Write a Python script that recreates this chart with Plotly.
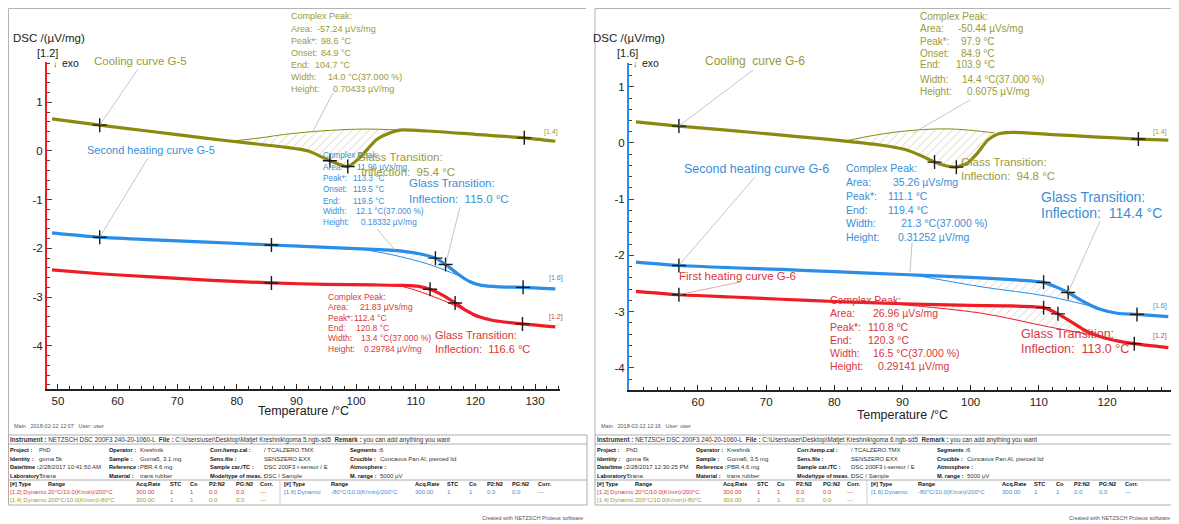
import plotly.graph_objects as go

# page is shown with the browser's 8px body margin, so the figure is drawn 8px smaller
# and every reference pixel position is shifted by that margin
PAGE_OFF = 8
W, H = 1179 - PAGE_OFF, 524 - PAGE_OFF
FONT = "Liberation Sans, Arial, sans-serif"

OLIVE, OLIVE_TXT = "#8a8a10", "#9b9b38"
BLUE, BLUE_TXT = "#2a8ee8", "#3a8ed8"
RED, RED_TXT = "#ee1c24", "#d8383c"
LEADER = "#b8b8b8"

# ---------------- G-5 (left panel) ----------------
g5_cool_t = [49, 57, 65, 75, 82, 88, 92, 95.6, 98.6, 100.6, 102, 103.4, 105.6, 107.3, 112, 120, 128.2, 133.4]
g5_cool_v = [0.66, 0.53, 0.41, 0.26, 0.16, 0.08, 0.0, -0.2, -0.32, -0.14, 0.05, 0.23, 0.37, 0.43, 0.41, 0.34, 0.27, 0.2]
g5_cool_base_t = [79, 84, 88, 94, 101, 107.3]
g5_cool_base_v = [0.2, 0.27, 0.34, 0.41, 0.45, 0.43]
g5_cool_mark_t = [57, 95.6, 98.6, 128.2]
g5_cool_mark_v = [0.53, -0.2, -0.32, 0.27]

g5_heat2_t = [49, 57, 65, 75, 85.8, 95, 103, 108, 111, 113.3, 115, 117, 119, 121, 124, 128, 133.4]
g5_heat2_v = [-1.68, -1.77, -1.82, -1.87, -1.93, -1.98, -2.02, -2.06, -2.12, -2.2, -2.33, -2.52, -2.68, -2.76, -2.79, -2.8, -2.83]
g5_heat2_base_t = [100, 106, 112, 116, 120.5]
g5_heat2_base_v = [-2.0, -2.13, -2.32, -2.5, -2.74]
g5_heat2_mark_t = [57, 85.8, 113.3, 115, 128]
g5_heat2_mark_v = [-1.77, -1.93, -2.2, -2.33, -2.8]

g5_heat1_t = [49, 57, 65, 75, 85.8, 95, 103, 108, 110.5, 112.4, 114.5, 116.6, 118.5, 120.5, 123, 127.9, 133.4]
g5_heat1_v = [-2.44, -2.52, -2.58, -2.65, -2.71, -2.74, -2.75, -2.76, -2.78, -2.84, -2.96, -3.12, -3.28, -3.4, -3.48, -3.55, -3.61]
g5_heat1_base_t = [106.8, 110, 114, 117, 120.2]
g5_heat1_base_v = [-2.75, -2.86, -3.04, -3.2, -3.42]
g5_heat1_mark_t = [85.8, 112.4, 116.6, 127.9]
g5_heat1_mark_v = [-2.71, -2.84, -3.12, -3.55]

# ---------------- G-6 (right panel) ----------------
g6_cool_t = [50.9, 57.2, 65, 75, 82, 87, 90.5, 93, 94.7, 96.5, 97.9, 99.5, 101, 102.5, 104, 106, 112, 118, 124.6, 129]
g6_cool_v = [0.375, 0.3, 0.22, 0.11, 0.03, -0.04, -0.12, -0.24, -0.34, -0.41, -0.43, -0.36, -0.18, 0.05, 0.16, 0.19, 0.15, 0.11, 0.07, 0.05]
g6_cool_base_t = [81, 86, 91, 97, 103.5]
g6_cool_base_v = [0.02, 0.14, 0.22, 0.25, 0.18]
g6_cool_mark_t = [57.2, 94.7, 97.9, 124.6]
g6_cool_mark_v = [0.3, -0.34, -0.43, 0.07]

g6_heat2_t = [50.9, 57.2, 65, 72.2, 80, 90, 100, 106, 110.7, 112.5, 114.3, 116.5, 119, 121.5, 124.4, 129]
g6_heat2_v = [-2.12, -2.18, -2.22, -2.25, -2.29, -2.34, -2.39, -2.43, -2.48, -2.56, -2.66, -2.82, -2.96, -3.03, -3.05, -3.09]
g6_heat2_base_t = [91.3, 101.6, 111.4, 119.2]
g6_heat2_base_v = [-2.34, -2.56, -2.73, -2.95]
g6_heat2_mark_t = [57.2, 110.7, 114.3, 124.4]
g6_heat2_mark_v = [-2.18, -2.48, -2.66, -3.05]

g6_heat1_t = [50.9, 57.2, 65, 72.2, 80, 90, 100, 106, 110.7, 112.8, 115, 117, 119.4, 121.5, 124, 129]
g6_heat1_v = [-2.64, -2.7, -2.74, -2.78, -2.82, -2.86, -2.89, -2.9, -2.93, -3.04, -3.2, -3.35, -3.46, -3.52, -3.57, -3.64]
g6_heat1_base_t = [88.4, 101.6, 111.4, 119.4]
g6_heat1_base_v = [-2.86, -3.03, -3.27, -3.45]
g6_heat1_mark_t = [57.2, 110.7, 112.8, 124]
g6_heat1_mark_v = [-2.7, -2.93, -3.04, -3.57]

# ticks
y_ticks = [-4, -3, -2, -1, 0, 1]
y_tick_text = ["-4", "-3", "-2", "-1", "0", "1"]
x_ticks_g5 = [50, 60, 70, 80, 90, 100, 110, 120, 130]
x_ticks_g6 = [60, 70, 80, 90, 100, 110, 120]

# evaluation texts
peak_cool_labels = ["Complex Peak:", "Area:", "Peak*:", "Onset:", "End:", "Width:", "Height:"]
g5_cool_peak = ["", "-57.24 µVs/mg", "98.6 °C", "84.9 °C", "104.7 °C", "14.0 °C(37.000 %)", "0.70433 µV/mg"]
g6_cool_peak = ["", "-50.44 µVs/mg", "97.9 °C", "84.9 °C", "103.9 °C", "14.4 °C(37.000 %)", "0.6075 µV/mg"]
g5_heat2_peak = ["", "11.96 µVs/mg", "113.3 °C", "119.5 °C", "119.5 °C", "12.1 °C(37.000 %)", "0.18332 µV/mg"]
peak_heat_labels = ["Complex Peak:", "Area:", "Peak*:", "End:", "Width:", "Height:"]
g5_heat1_peak = ["", "21.83 µVs/mg", "112.4 °C", "120.8 °C", "13.4 °C(37.000 %)", "0.29784 µV/mg"]
g6_heat2_peak = ["", "35.26 µVs/mg", "111.1 °C", "119.4 °C", "21.3 °C(37.000 %)", "0.31252 µV/mg"]
g6_heat1_peak = ["", "26.96 µVs/mg", "110.8 °C", "120.3 °C", "16.5 °C(37.000 %)", "0.29141 µV/mg"]

# report table
table_cols = [(9, 38), (108, 139), (209, 263), (349, 379)]
info_g5 = [
    [("Project :", "PhD"), ("Operator :", "Kreshnik"), ("Corr./temp.cal :", "/ TCALZERO.TMX"), ("Segments :", "6")],
    [("Identity :", "goma 5k"), ("Sample :", "Goma5, 3.1 mg"), ("Sens.file :", "SENSZERO.EXX"), ("Crucible :", "Concavus Pan Al, pierced lid")],
    [("Date/time :", "2/28/2017 10:41:50 AM"), ("Reference :", "PBR,4.6 mg"), ("Sample car./TC :", "DSC 200F3 t-sensor / E"), ("Atmosphere :", "")],
    [("Laboratory :", "Tirana"), ("Material :", "trans rubber"), ("Mode/type of meas. :", "DSC / Sample"), ("M. range :", "5000 µV")],
]
info_g6 = [
    [("Project :", "PhD"), ("Operator :", "Kreshnik"), ("Corr./temp.cal :", "/ TCALZERO.TMX"), ("Segments :", "6")],
    [("Identity :", "goma 6k"), ("Sample :", "Goma6, 3.5 mg"), ("Sens.file :", "SENSZERO.EXX"), ("Crucible :", "Concavus Pan Al, pierced lid")],
    [("Date/time :", "2/28/2017 12:30:25 PM"), ("Reference :", "PBR,4.6 mg"), ("Sample car./TC :", "DSC 200F3 t-sensor / E"), ("Atmosphere :", "")],
    [("Laboratory :", "Tirana"), ("Material :", "trans rubber"), ("Mode/type of meas. :", "DSC / Sample"), ("M. range :", "5000 µV")],
]
instrument = "NETZSCH DSC 200F3 240-20-1060-L"
file_g5 = r"C:\Users\user\Desktop\Matjet Kreshnik\goma 5.ngb-sd5"
file_g6 = r"C:\Users\user\Desktop\Matjet Kreshnik\goma 6.ngb-sd5"
remark = "you can add anything you want"
main_g5 = "Main   2018-02-12 12:07   User: user"
main_g6 = "Main   2018-02-12 12:16   User: user"
seg_head = ["[#] Type", "Range", "Acq.Rate", "STC", "Co", "P2:N2", "PG:N2", "Corr."]
seg_x_left = [9, 47, 135, 169, 189, 208, 235, 259]
seg_x_right = [283, 330, 414, 446, 468, 486, 511, 537]
seg_12 = ["[1.2] Dynamic", "20°C/10.0(K/min)/200°C", "300.00", "1", "1", "0.0", "0.0", "---"]
seg_14 = ["[1.4] Dynamic", "200°C/10.0(K/min)/-80°C", "300.00", "1", "1", "0.0", "0.0", "---"]
seg_16 = ["[1.6] Dynamic", "-80°C/10.0(K/min)/200°C", "300.00", "1", "1", "0.0", "0.0", "---"]

panels = {
    "g5": dict(xa="x", ya="y", px=(47, 560), py=(62, 389), tr=(48.16, 134.19), vr=(-4.887, 1.827), off=0, axis=RED),
    "g6": dict(xa="x2", ya="y2", px=(629, 1173), py=(63, 390), tr=(49.88, 129.68), vr=(-4.395, 1.423), off=587, axis=BLUE),
}

fig = go.Figure()


def X(x):
    return max(x - PAGE_OFF, 0.5) / W


def Y(y):
    return 1 - max(y - PAGE_OFF, 0.5) / H


def p2d(p, x, y):
    t = p["tr"][0] + (x - p["px"][0]) / (p["px"][1] - p["px"][0]) * (p["tr"][1] - p["tr"][0])
    v = p["vr"][1] - (y - p["py"][0]) / (p["py"][1] - p["py"][0]) * (p["vr"][1] - p["vr"][0])
    return t, v


def curve(p, ct, cv, bt, bv, mt, mv, color, hatch):
    inner = [(t, v) for t, v in zip(ct, cv) if bt[0] < t < bt[-1]]
    poly_t = list(bt) + [t for t, _ in reversed(inner)]
    poly_v = list(bv) + [v for _, v in reversed(inner)]
    common = dict(xaxis=p["xa"], yaxis=p["ya"], hoverinfo="skip", showlegend=False)
    fig.add_trace(go.Scatter(x=poly_t, y=poly_v, mode="lines", fill="toself", line=dict(width=0),
                             fillcolor="rgba(255,255,255,0)",
                             fillpattern=dict(shape="/", fgcolor=hatch, bgcolor="rgba(255,255,255,0)", size=6, solidity=0.15),
                             **common))
    fig.add_trace(go.Scatter(x=bt, y=bv, mode="lines", line=dict(color=color, width=1, shape="spline"), **common))
    fig.add_trace(go.Scatter(x=ct, y=cv, mode="lines", line=dict(color=color, width=3.2, shape="spline", smoothing=0.6), **common))
    fig.add_trace(go.Scatter(x=mt, y=mv, mode="markers",
                             marker=dict(symbol="cross-thin", size=10, line=dict(color="#1a1a1a", width=1.4)), **common))


def txt(s, x, y, size, color, anchor="left", bold=False):
    fig.add_annotation(text=f"<b>{s}</b>" if bold else s, x=X(x), y=Y(y), xref="paper", yref="paper",
                       xanchor=anchor, yanchor="middle", showarrow=False, borderpad=0,
                       font=dict(family=FONT, size=size, color=color))


def block(labels, values, x_lab, x_vals, ys, size, color):
    for lab, val, xv, y in zip(labels, values, x_vals, ys):
        txt(lab, x_lab, y, size, color)
        if val:
            txt(val, xv, y, size, color)


def leader(p, x0, y0, t1, v1, color=LEADER):
    t0, v0 = p2d(p, x0, y0)
    fig.add_shape(type="line", xref=p["xa"], yref=p["ya"], x0=t0, y0=v0, x1=t1, y1=v1,
                  line=dict(color=color, width=0.8))


def line_px(x0, y0, x1, y1, color=LEADER):
    fig.add_shape(type="line", xref="paper", yref="paper", x0=X(x0), y0=Y(y0), x1=X(x1), y1=Y(y1),
                  line=dict(color=color, width=0.8))


P5, P6 = panels["g5"], panels["g6"]

# curves
curve(P5, g5_cool_t, g5_cool_v, g5_cool_base_t, g5_cool_base_v, g5_cool_mark_t, g5_cool_mark_v, OLIVE, "#a8a878")
curve(P5, g5_heat2_t, g5_heat2_v, g5_heat2_base_t, g5_heat2_base_v, g5_heat2_mark_t, g5_heat2_mark_v, BLUE, "#9aa6b2")
curve(P5, g5_heat1_t, g5_heat1_v, g5_heat1_base_t, g5_heat1_base_v, g5_heat1_mark_t, g5_heat1_mark_v, RED, "#b89a9a")
curve(P6, g6_cool_t, g6_cool_v, g6_cool_base_t, g6_cool_base_v, g6_cool_mark_t, g6_cool_mark_v, OLIVE, "#a8a878")
curve(P6, g6_heat2_t, g6_heat2_v, g6_heat2_base_t, g6_heat2_base_v, g6_heat2_mark_t, g6_heat2_mark_v, BLUE, "#9aa6b2")
curve(P6, g6_heat1_t, g6_heat1_v, g6_heat1_base_t, g6_heat1_base_v, g6_heat1_mark_t, g6_heat1_mark_v, RED, "#b89a9a")

# leader lines
leader(P5, 138, 69, g5_cool_mark_t[0], g5_cool_mark_v[0])
leader(P5, 148, 158, g5_heat2_mark_t[0], g5_heat2_mark_v[0])
line_px(333, 93, 312, 133)
line_px(377, 229, 395, 250)
leader(P5, 460, 207, g5_heat2_mark_t[3], g5_heat2_mark_v[3])
leader(P6, 753, 70, g6_cool_mark_t[0], g6_cool_mark_v[0])
leader(P6, 755, 177, g6_heat2_mark_t[0], g6_heat2_mark_v[0])
leader(P6, 740, 282, g6_heat1_mark_t[0], g6_heat1_mark_v[0], "#d89090")
line_px(970, 100, 913, 133)
line_px(912, 243, 910, 272)
leader(P6, 1100, 221, g6_heat2_mark_t[2], g6_heat2_mark_v[2])

# axis headers
for p, tag in ((P5, "[1.2]"), (P6, "[1.6]")):
    b = 0 if p is P5 else 580
    txt("DSC /(µV/mg)", 12 + b, 38, 11.5, "#222")
    txt(tag, 47 + b, 53, 11, "#222", anchor="center")
    txt("↓", 55 + b, 65, 8, "#222", anchor="center")
    txt("exo", 61 + b, 63, 10.5, "#222")

txt("Temperature /°C", 303, 411, 12.5, "#222", anchor="center")
txt("Temperature /°C", 902, 415, 12.5, "#222", anchor="center")

# curve labels, left
txt("Cooling curve G-5", 93, 61, 11.5, OLIVE_TXT)
txt("Second heating curve G-5", 86, 150, 11, BLUE_TXT)
block(peak_cool_labels, g5_cool_peak, 290, [0, 316, 320, 320, 314, 327, 332], [16, 29, 41, 53, 65, 77, 89], 9, OLIVE_TXT)
block(peak_cool_labels, g5_heat2_peak, 322, [0, 356, 352, 352, 352, 355, 360], [155, 167, 179, 190, 201, 211, 222], 8.2, BLUE_TXT)
txt("Glass Transition:", 356, 157, 11.5, OLIVE_TXT)
txt("Inflection:  95.4 °C", 360, 172, 11.5, OLIVE_TXT)
txt("Glass Transition:", 408, 183, 11.5, BLUE_TXT)
txt("Inflection:  115.0 °C", 408, 199, 11.5, BLUE_TXT)
block(peak_heat_labels, g5_heat1_peak, 327, [0, 359, 353, 355, 360, 363], [297, 307, 318, 328, 338, 349], 8.5, RED_TXT)
txt("Glass Transition:", 434, 335, 11, RED_TXT)
txt("Inflection:  116.6 °C", 434, 349, 11, RED_TXT)
txt("[1.4]", 543, 132, 7, OLIVE_TXT)
txt("[1.6]", 548, 278, 7, BLUE_TXT)
txt("[1.2]", 548, 317, 7, RED_TXT)

# curve labels, right
txt("Cooling  curve G-6", 704, 61, 12, OLIVE_TXT)
txt("Second heating curve G-6", 683, 169, 12.5, BLUE_TXT)
txt("First heating curve G-6", 678, 276, 11.5, RED_TXT)
block(peak_cool_labels, g6_cool_peak, 919, [0, 957, 960, 960, 955, 961, 966], [16, 29, 41, 53, 65, 79, 91], 10, OLIVE_TXT)
block(peak_heat_labels, g6_heat2_peak, 845, [0, 892, 887, 887, 900, 897], [168, 182, 196, 210, 223, 237], 10.5, BLUE_TXT)
txt("Glass Transition:", 960, 162, 11.5, OLIVE_TXT)
txt("Inflection:  94.8 °C", 960, 176, 11.5, OLIVE_TXT)
txt("Glass Transition:", 1040, 197, 14, BLUE_TXT)
txt("Inflection:  114.4 °C", 1040, 213, 14, BLUE_TXT)
block(peak_heat_labels, g6_heat1_peak, 829, [0, 872, 867, 867, 872, 877], [300, 313, 327, 340, 353, 366], 10.5, RED_TXT)
txt("Glass Transition:", 1020, 334, 12.5, RED_TXT)
txt("Inflection:  113.0 °C", 1020, 349, 12.5, RED_TXT)
txt("[1.4]", 1152, 132, 7, OLIVE_TXT)
txt("[1.6]", 1152, 306, 7, BLUE_TXT)
txt("[1.2]", 1152, 336, 7, RED_TXT)

# report tables
for p, info, fname, main in ((P5, info_g5, file_g5, main_g5), (P6, info_g6, file_g6, main_g6)):
    o = p["off"]
    txt(main, 13 + o, 426, 5.5, "#555")
    txt(f"<b>Instrument :</b> {instrument}  <b>File :</b> {fname}  <b>Remark :</b> {remark}", 9 + o, 440, 6.3, "#333")
    for row, y in zip(info, [450, 459, 467, 476]):
        for (lab, val), (xl, xv) in zip(row, table_cols):
            txt(lab, xl + o, y, 5.6, "#111", bold=True)
            if val:
                txt(val, xv + o, y, 6, "#333")
    for xs in (seg_x_left, seg_x_right):
        for h, x in zip(seg_head, xs):
            txt(h, x + o, 484, 5.6, "#111", bold=True)
    for vals, xs, y, c in ((seg_12, seg_x_left, 492, RED_TXT), (seg_14, seg_x_left, 500, OLIVE_TXT),
                           (seg_16, seg_x_right, 492, BLUE_TXT)):
        for v, x in zip(vals, xs):
            txt(v, x + o, y, 6, c)
    txt("Created with NETZSCH Proteus software", 584 + o, 518, 5.5, "#555", anchor="right")
    x0, x1 = 8 + o, 587 + o
    for y in (435, 444, 480, 505):
        line_px(x0, y, x1, y, "#9a9a9a")
    line_px(x0, 435, x0, 505, "#9a9a9a")
    line_px(x1, 435, x1, 505, "#9a9a9a")
    line_px(280 + o, 480, 280 + o, 505, "#c0c0c0")
    # panel frame
    line_px(8 + o, 8, 586 + o, 8, "#a0a0a0")
    line_px(8 + o, 8, 8 + o, 435, "#a0a0a0")


def x_axis(p, vals):
    return dict(domain=[X(p["px"][0]), X(p["px"][1])], range=list(p["tr"]), anchor=p["ya"],
                showline=True, linecolor="#222", linewidth=1.5, ticks="inside", ticklen=5, tickcolor="#222",
                tickmode="array", tickvals=vals, ticktext=[str(v) for v in vals],
                minor=dict(ticks="inside", ticklen=3, dtick=2, tick0=0, tickcolor="#222"),
                showgrid=False, zeroline=False, tickfont=dict(family=FONT, size=11.5, color="#222"))


def y_axis(p):
    return dict(domain=[Y(p["py"][1]), Y(p["py"][0])], range=list(p["vr"]), anchor=p["xa"],
                showline=True, linecolor=p["axis"], linewidth=2, ticks="inside", ticklen=5, tickcolor="#444",
                tickmode="array", tickvals=y_ticks, ticktext=y_tick_text,
                minor=dict(ticks="inside", ticklen=3, dtick=0.2, tick0=0, tickcolor="#444"),
                showgrid=False, zeroline=False, tickfont=dict(family=FONT, size=11.5, color="#222"))


fig.update_layout(
    width=W, height=H, margin=dict(l=0, r=0, t=0, b=0),
    paper_bgcolor="white", plot_bgcolor="rgba(0,0,0,0)", showlegend=False,
    xaxis=x_axis(P5, x_ticks_g5), yaxis=y_axis(P5),
    xaxis2=x_axis(P6, x_ticks_g6), yaxis2=y_axis(P6),
)

fig.write_html("out.html")
